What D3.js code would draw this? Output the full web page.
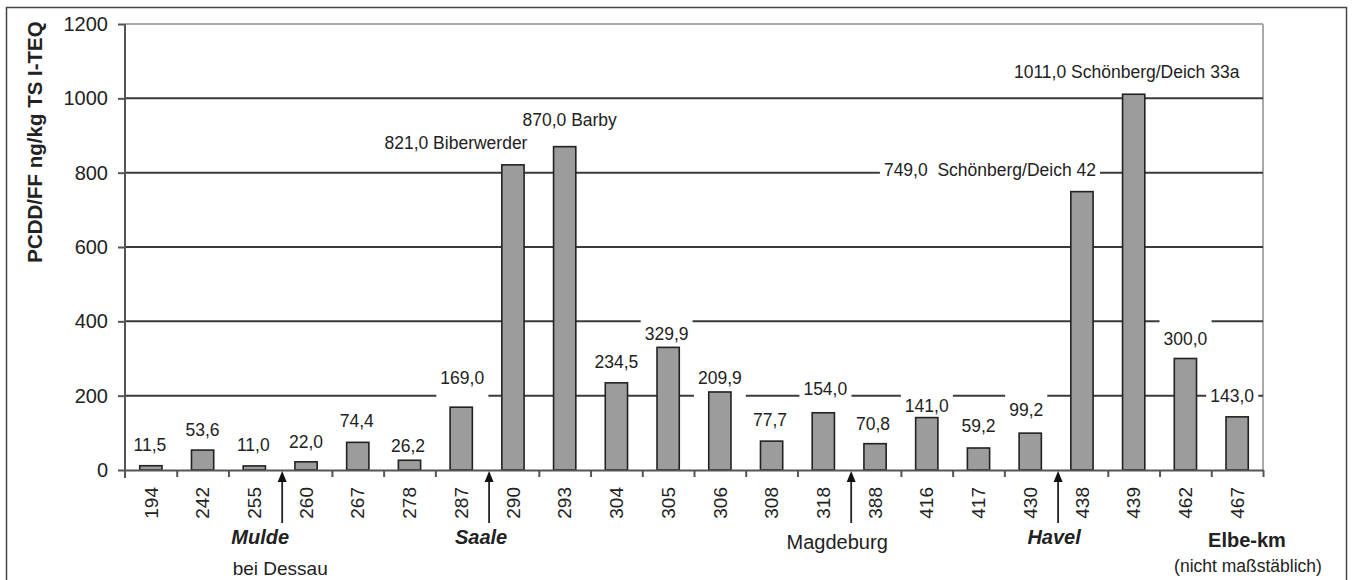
<!DOCTYPE html>
<html>
<head>
<meta charset="utf-8">
<script src="https://cdn.jsdelivr.net/npm/d3@7"></script>
<style>
  html, body { margin: 0; padding: 0; background: #fff; }
  svg { display: block; font-family: "Liberation Sans", Arial, sans-serif; }
  text { white-space: pre; }
</style>
</head>
<body>
<svg id="chart" width="1352" height="580"></svg>
<script>
// ---- data ----
const kmLabels = ["194","242","255","260","267","278","287","290","293","304","305","306","308","318","388","416","417","430","438","439","462","467"];
const values   = [11.5,53.6,11.0,22.0,74.4,26.2,169.0,821.0,870.0,234.5,329.9,209.9,77.7,154.0,70.8,141.0,59.2,99.2,749.0,1011.0,300.0,143.0];
const siteNames = ["","","","","","","","Biberwerder","Barby","","","","","","","","","","Schönberg/Deich 42","Schönberg/Deich 33a","",""];
const yTicks = [0,200,400,600,800,1000,1200];
const tributaryAt = [3,7,14,18];            // boundary index (between categories)
const tributaryNames = ["Mulde","Saale","Magdeburg","Havel"];
const tributaryBold = [true,true,false,true];
const tributarySub = ["bei Dessau","","",""];
const yTitle = "PCDD/FF ng/kg TS I-TEQ";
const xTitle = "Elbe-km";
const xSubTitle = "(nicht maßstäblich)";

// ---- layout (label placement offsets, px) ----
const labelRise = [21,20,21,20,21,14,29,22,27,21,14,14,21,24,20,12,22,23,22,22,20,21];
const labelShift = [-1,0,-1,0,-1,-1.5,1,-57,5,0,-1.5,0,-1.5,2,-2,0,0,-4,-92,-7,0,-5];
const tribShift = [-22,-8,-14,-4];

const fmt = v => v.toFixed(1).replace(".", ",");

const svg = d3.select("#chart");
const L = 125, R = 1263, T = 24, B = 470;

// outer frame
svg.append("rect").attr("x",6.5).attr("y",7.5).attr("width",1340).attr("height",620)
  .attr("fill","none").attr("stroke","#444").attr("stroke-width",1.5);

const y = d3.scaleLinear().domain([0,1200]).range([B,T]);
const x = d3.scaleBand().domain(d3.range(values.length)).range([L,R]).paddingInner(0.57).paddingOuter(0.285);
const xb = d3.scaleLinear().domain([0, values.length]).range([L,R]);

const gridLayer = svg.append("g");
const boxLayer = svg.append("g");
const barLayer = svg.append("g");
const axisLayer = svg.append("g");
const textLayer = svg.append("g");

// plot frame top/right (light)
gridLayer.append("line").attr("x1",L).attr("x2",R).attr("y1",y(1200)).attr("y2",y(1200))
  .attr("stroke","#aaa").attr("stroke-width",2);
gridLayer.append("line").attr("x1",R).attr("x2",R).attr("y1",y(1200)).attr("y2",B)
  .attr("stroke","#aaa").attr("stroke-width",2);

// gridlines
gridLayer.append("g").selectAll("line").data(yTicks.filter(t => t > 0 && t < 1200)).join("line")
  .attr("x1",L).attr("x2",R).attr("y1",d => y(d)).attr("y2",d => y(d))
  .attr("stroke","#3a3a3a").attr("stroke-width",2);

// y axis
const ya = axisLayer.append("g").attr("transform",`translate(${L},0)`)
  .call(d3.axisLeft(y).tickValues(yTicks).tickSize(7).tickPadding(10).tickSizeOuter(0).tickFormat(d3.format("d")));
ya.select(".domain").attr("stroke","#555").attr("stroke-width",2).attr("d",`M0,${T}V${B+8}`);
ya.selectAll(".tick line").attr("stroke","#555").attr("stroke-width",2);
ya.selectAll(".tick text").attr("font-size",20).attr("fill","#222").attr("font-family","Liberation Sans, Arial, sans-serif");

// x axis
const xa = axisLayer.append("g").attr("transform",`translate(0,${B})`)
  .call(d3.axisBottom(xb).tickValues(d3.range(1, values.length+1).filter(k => !tributaryAt.includes(k))).tickSize(7).tickSizeOuter(0).tickFormat(""));
xa.select(".domain").attr("stroke","#555").attr("stroke-width",2);
xa.selectAll(".tick line").attr("stroke","#555").attr("stroke-width",2);

// bars
barLayer.selectAll("rect").data(values).join("rect")
  .attr("x",(d,i) => x(i)).attr("width",x.bandwidth())
  .attr("y",d => y(d)).attr("height",d => B - y(d))
  .attr("fill","#9c9c9c").attr("stroke","#222").attr("stroke-width",1.6);

// value labels
const labs = textLayer.selectAll("text.val").data(values).join("text")
  .attr("class","val")
  .attr("x",(d,i) => x(i) + x.bandwidth()/2 + labelShift[i])
  .attr("y",(d,i) => y(d) - labelRise[i])
  .attr("dy","0.35em")
  .attr("text-anchor","middle")
  .attr("font-size",17.5)
  .attr("fill","#222")
  .text((d,i) => fmt(d) + (siteNames[i] ? (i === 18 ? "  " : " ") + siteNames[i] : ""));
labs.each(function() {
  const bb = this.getBBox();
  const cy = bb.y + bb.height/2;
  boxLayer.append("rect").attr("x",bb.x-4).attr("width",bb.width+8)
    .attr("y",cy-19.5).attr("height",39).attr("fill","#fff");
});

// category labels
textLayer.append("g").selectAll("text").data(kmLabels).join("text")
  .attr("transform",(d,i) => `translate(${x(i)+x.bandwidth()/2},487) rotate(-90)`)
  .attr("dy","0.35em").attr("text-anchor","end")
  .attr("font-size",19).attr("fill","#222")
  .text(d => d);

// tributary arrows
const arr = textLayer.append("g").selectAll("g").data(tributaryAt).join("g")
  .attr("transform",d => `translate(${xb(d)+2},0)`);
arr.append("line").attr("x1",0).attr("x2",0).attr("y1",523).attr("y2",478)
  .attr("stroke","#222").attr("stroke-width",1.8);
arr.append("path").attr("d","M0,471L-4.5,482L4.5,482Z").attr("fill","#111");
arr.append("text")
  .attr("x",(d,i) => tribShift[i]).attr("y",(d,i) => tributaryBold[i] ? 537 : 542)
  .attr("dy","0.35em").attr("text-anchor","middle")
  .attr("font-size",20).attr("fill","#222")
  .attr("font-weight",(d,i) => tributaryBold[i] ? "bold" : "normal")
  .attr("font-style",(d,i) => tributaryBold[i] ? "italic" : "normal")
  .text((d,i) => tributaryNames[i]);
arr.append("text")
  .attr("x",-2).attr("y",568)
  .attr("dy","0.35em").attr("text-anchor","middle")
  .attr("font-size",19).attr("fill","#222")
  .text((d,i) => tributarySub[i]);

// x title
textLayer.append("text").attr("x",1247).attr("y",540).attr("dy","0.35em").attr("text-anchor","middle")
  .attr("font-size",20).attr("font-weight","bold").attr("fill","#222").text(xTitle);
textLayer.append("text").attr("x",1248).attr("y",566).attr("dy","0.35em").attr("text-anchor","middle")
  .attr("font-size",17.5).attr("fill","#222").text(xSubTitle);

// y title
textLayer.append("text").attr("transform","translate(35,142) rotate(-90)")
  .attr("dy","0.35em").attr("text-anchor","middle")
  .attr("font-size",20.5).attr("font-weight","bold").attr("fill","#222").text(yTitle);
</script>
</body>
</html>
